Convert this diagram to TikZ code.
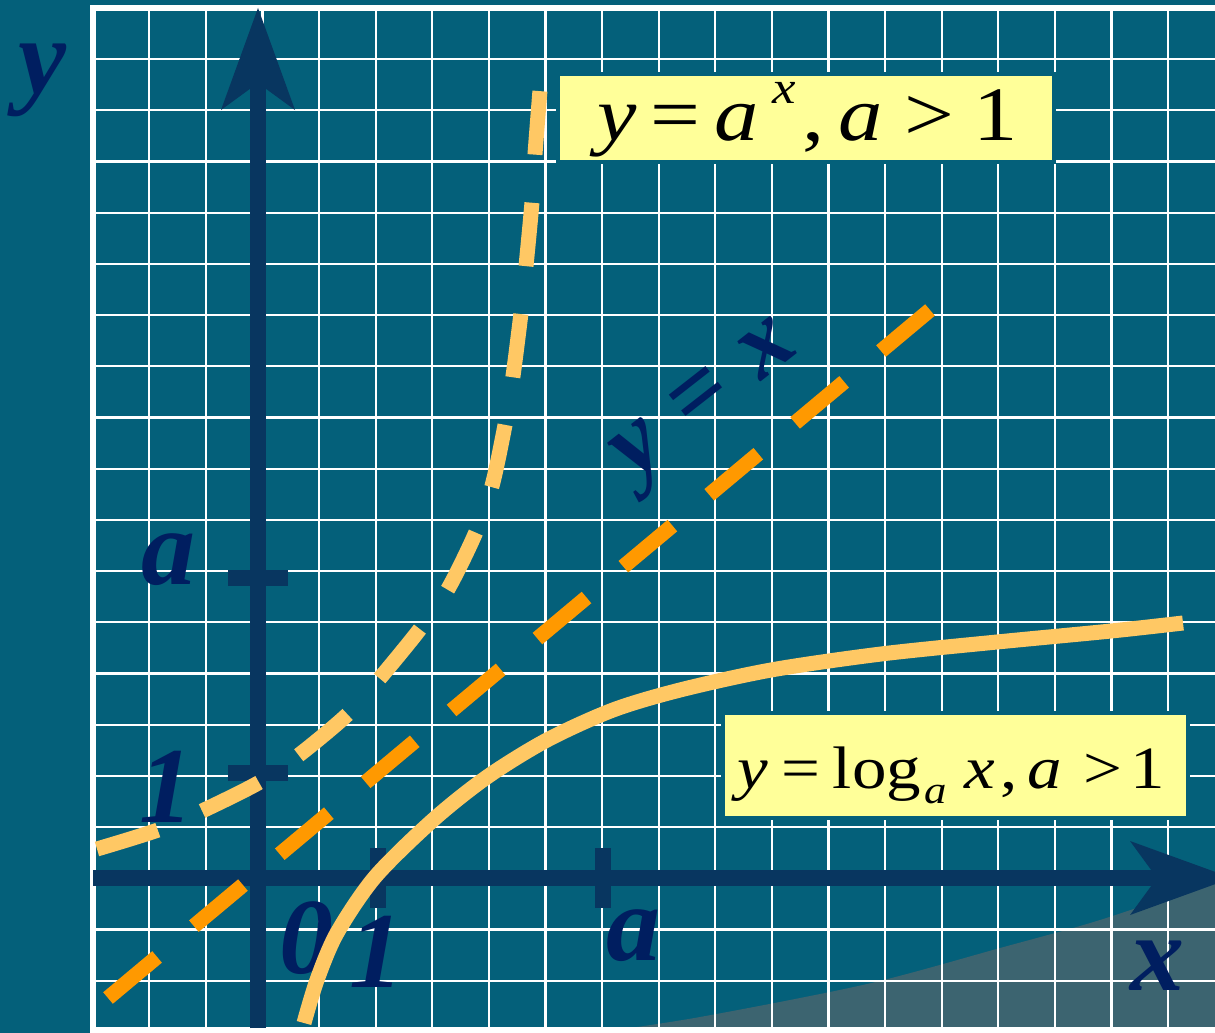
\documentclass[tikz,border=0pt]{standalone}
\usepackage{fontspec}
\usepackage{xcolor}
\usepackage{tikz}
\usetikzlibrary{calc,positioning,arrows.meta}
\setmainfont{Liberation Serif}

\definecolor{boardteal}{RGB}{4,96,122}
\definecolor{shadegrey}{RGB}{60,100,112}
\definecolor{axisnavy}{RGB}{8,54,96}
\definecolor{labelnavy}{RGB}{0,30,96}
\definecolor{curvegold}{RGB}{255,200,100}
\definecolor{lineorange}{RGB}{255,153,0}
\definecolor{noteyellow}{RGB}{255,255,153}

\tikzset{
  gridline/.style={white, line width=2.2pt},
  axisline/.style={axisnavy, line width=16pt,
    -{Stealth[length=102pt, width=74pt, inset=27pt, line width=0pt]}},
  tickmark/.style={axisnavy, line width=16pt},
  axislabel/.style={labelnavy, inner sep=0pt,
    font=\bfseries\itshape\fontsize{108}{108}\selectfont},
  curveline/.style={curvegold, line width=15pt},
  formbox/.style={fill=noteyellow, draw=boardteal, line width=4pt, inner sep=0pt},
  formtext/.style={black, inner sep=0pt}
}

\begin{document}
\begin{tikzpicture}[x=1pt, y=-1pt]
\useasboundingbox (0,0) rectangle (1215,1033);
% board and shaded corner
\fill[boardteal] (0,0) rectangle (1215,1033);
\fill[shadegrey] plot[smooth] coordinates {(595,1033) (700,1017) (867,984) (1000,948) (1100,920) (1215,881)}
  -- (1215,1033) -- cycle;
% grid
\foreach \i in {0,...,18}{
  \pgfmathsetmacro{\gx}{149.3+56.6*\i}
  \draw[gridline] (\gx,8) -- (\gx,1033);
}
\foreach \j in {0,...,18}{
  \pgfmathsetmacro{\gy}{59+51.2*\j}
  \draw[gridline] (93,\gy) -- (1215,\gy);
}
\draw[white, line width=6pt] (1230,8) -- (93,8) -- (93,1030) -- (1230,1030);
% axes
\coordinate (O) at (258,878);
\coordinate (xstart) at (93,878);
\coordinate (xend) at (1232,878);
\coordinate (ystart) at (258,1028);
\coordinate (yend) at (258,8);
\draw[axisline] (xstart) -- (xend);
\draw[axisline] (ystart) -- (yend);
% ticks
\draw[tickmark] ($(O)+(-30,-105)$) -- ($(O)+(30,-105)$);
\draw[tickmark] ($(O)+(-30,-300)$) -- ($(O)+(30,-300)$);
\draw[tickmark] ($(O)+(120,-30)$) -- ($(O)+(120,30)$);
\draw[tickmark] ($(O)+(345,-30)$) -- ($(O)+(345,30)$);
% axis labels
\node[axislabel] (ylab) at (42,80) {y};
\node[axislabel] (xlab) at (1157,966) {x};
\node[axislabel] (yone) at (166,787) {1};
\node[axislabel] (ya) at (168,560) {a};
\node[axislabel] (zero) at (306,938) {0};
\node[axislabel] (xone) at (376,952) {1};
\node[axislabel] (xa) at (633,936) {a};
\node[axislabel, rotate=38, font=\bfseries\itshape\fontsize{100}{100}\selectfont] (diaglab) at (710,406) {y\hspace{.3em}=\hspace{.3em}x};
% y = x
\coordinate (diagA) at (108,998);
\coordinate (diagB) at (930,310);
\draw[lineorange, line width=15pt, dash pattern=on 64pt off 48pt] (diagA) -- (diagB);
% y = a^x
\draw[curveline, dash pattern=on 63.7pt off 48.2pt] plot[smooth, tension=0.5] coordinates {
  (97,849) (158,830) (202,811) (260,782) (299,755) (348,714) (380,678) (420,629) (448,589)
  (476,532) (492,486) (505,425) (513,376) (521,313) (526,266) (532,202) (535,154) (540,90)};
% y = log_a x
\draw[curveline] plot[smooth] coordinates {
  (304,1023) (317,980) (337,933) (375,877) (433,820) (487,777) (547,740) (613,710)
  (680,690) (771,670) (881,654) (997,642) (1111,631) (1183,623)};
% formula boxes
\node[formbox, minimum width=496pt, minimum height=88pt] (expbox) at (806,118) {};
\node[formtext, font=\fontsize{77}{77}\selectfont] (exptext) at (808,119.5)
  {\scalebox{1.15}[1]{\textit{y}\hspace{.15em}=\hspace{.16em}\textit{a}\hspace{.15em}\raisebox{37pt}{\fontsize{46}{46}\selectfont\textit{x}}\hspace{.08em},\hspace{.15em}\textit{a}\hspace{.25em}>\hspace{.22em}1}};
\node[formbox, minimum width=465pt, minimum height=105pt] (logbox) at (955.5,765.5) {};
\node[formtext, font=\fontsize{60}{60}\selectfont] (logtext) at (951,775)
  {\scalebox{1.15}[1]{\textit{y}\hspace{.2em}=\hspace{.18em}log\hspace{.05em}\raisebox{-15pt}{\fontsize{39}{39}\selectfont\textit{a}}\hspace{.25em}\textit{x}\hspace{.08em},\hspace{.15em}\textit{a}\hspace{.3em}>\hspace{.12em}1}};
\end{tikzpicture}
\end{document}
